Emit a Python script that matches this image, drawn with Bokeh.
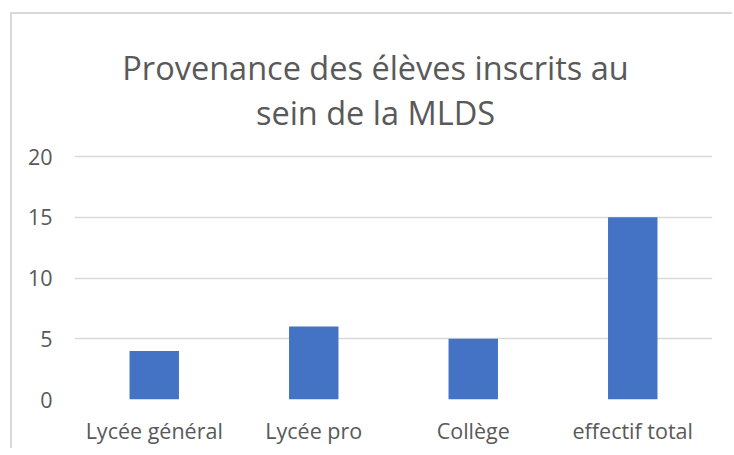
from bokeh.plotting import figure
from bokeh.models import Range1d, FixedTicker, ColumnDataSource, Label
from bokeh.embed import file_html
from bokeh.resources import INLINE

categories = ["Lycée général", "Lycée pro", "Collège", "effectif total"]
values = [4, 6, 5, 15]
y_ticks = [0, 5, 10, 15, 20]
title_lines = ["Provenance des élèves inscrits au", "sein de la MLDS"]

src = ColumnDataSource(data=dict(cat=categories, val=values))

# layout (pixels)
W, H = 722, 436
B_LEFT, B_RIGHT, B_BOTTOM = 62, 22, 51
AXIS_TOP_PX = 142            # distance of the "20" gridline below canvas top
frame_h = H - B_BOTTOM       # frame spans whole height above the x labels
y_max = 20 * frame_h / (frame_h - AXIS_TOP_PX)

p = figure(
    x_range=categories,
    y_range=Range1d(0, y_max),
    width=W,
    height=H,
    output_backend="svg",
    toolbar_location=None,
    title_location=None,
    min_border_left=B_LEFT,
    min_border_right=B_RIGHT,
    min_border_top=0,
    min_border_bottom=B_BOTTOM,
)
p.styles = {
    "margin-left": "10px",
    "margin-top": "12px",
    "border-left": "2px solid #d9d9d9",
    "border-top": "2px solid #d9d9d9",
}

p.vbar(x="cat", top="val", width=0.31, source=src, fill_color="#4472C4", line_color=None)

# title, two centred lines (screen units: from frame left / frame bottom)
for txt, yb in zip(title_lines, [332, 287]):
    p.add_layout(Label(x=301, y=yb, x_units="screen", y_units="screen", text=txt,
                       text_align="center", text_baseline="alphabetic",
                       text_font="Open Sans", text_font_size="32.5px",
                       text_color="#595959"))

p.outline_line_color = None
p.xgrid.grid_line_color = None
p.ygrid.grid_line_color = "#d9d9d9"
p.ygrid.grid_line_width = 1.5
p.yaxis.ticker = FixedTicker(ticks=y_ticks)

for ax in (p.xaxis, p.yaxis):
    ax.axis_line_color = None
    ax.major_tick_line_color = None
    ax.minor_tick_line_color = None
    ax.major_tick_out = 0
    ax.major_tick_in = 0
    ax.major_label_text_font = "Open Sans"
    ax.major_label_text_font_size = "21.5px"
    ax.major_label_text_color = "#595959"

p.yaxis.major_label_standoff = 22
p.xaxis.major_label_standoff = 16

open("out.html", "w").write(file_html(p, INLINE))
